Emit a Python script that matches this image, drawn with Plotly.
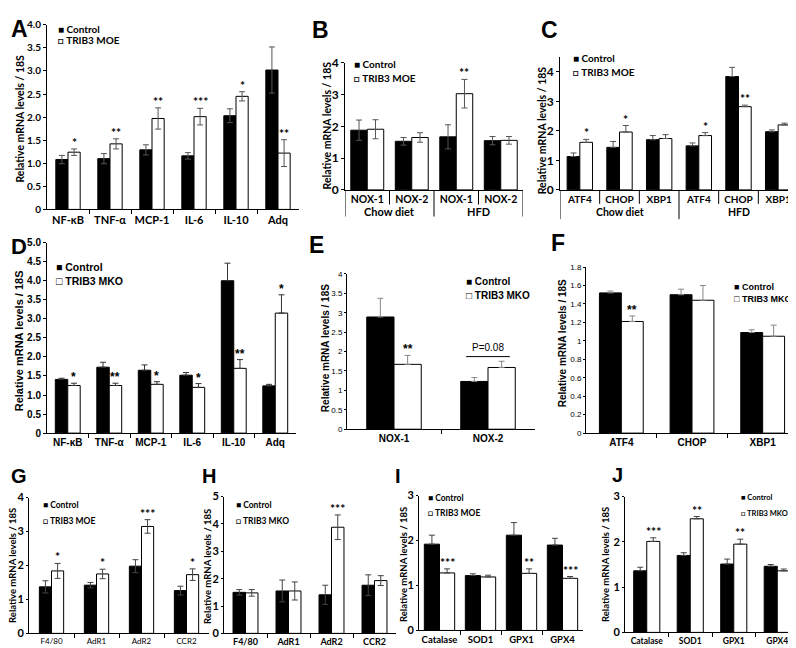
import numpy as np
import plotly.graph_objects as go

W, H = 796, 648
CAL = "Lato, 'Open Sans', sans-serif"
ARI = "'Liberation Sans', Arial, sans-serif"
YTITLE = "Relative mRNA levels / 18S"

# ---- data ----
a_genes = ["NF-κB", "TNF-α", "MCP-1", "IL-6", "IL-10", "Adq"]
a_ctrl = [1.08, 1.10, 1.29, 1.16, 2.03, 3.02]
a_ctrl_err = [0.09, 0.11, 0.11, 0.07, 0.15, 0.50]
a_moe = [1.24, 1.42, 1.97, 2.01, 2.45, 1.22]
a_moe_err = [0.07, 0.11, 0.23, 0.18, 0.10, 0.29]
a_sig = ["*", "**", "**", "***", "*", "**"]

b_genes = ["NOX-1", "NOX-2", "NOX-1", "NOX-2"]
b_diet = ["Chow diet", "HFD"]
b_ctrl = [1.88, 1.53, 1.67, 1.55]
b_ctrl_err = [0.32, 0.12, 0.38, 0.13]
b_moe = [1.91, 1.65, 3.03, 1.56]
b_moe_err = [0.30, 0.15, 0.45, 0.12]
b_sig = ["", "", "**", ""]

c_genes = ["ATF4", "CHOP", "XBP1", "ATF4", "CHOP", "XBP1"]
c_diet = ["Chow diet", "HFD"]
c_ctrl = [1.13, 1.44, 1.70, 1.49, 3.84, 1.97]
c_ctrl_err = [0.12, 0.20, 0.14, 0.10, 0.31, 0.06]
c_moe = [1.61, 1.96, 1.74, 1.84, 2.82, 2.20]
c_moe_err = [0.10, 0.22, 0.13, 0.10, 0.05, 0.06]
c_sig = ["*", "*", "", "*", "**", ""]

d_genes = ["NF-κB", "TNF-α", "MCP-1", "IL-6", "IL-10", "Adq"]
d_ctrl = [1.41, 1.73, 1.65, 1.52, 4.00, 1.24]
d_ctrl_err = [0.03, 0.13, 0.14, 0.07, 0.46, 0.04]
d_mko = [1.25, 1.25, 1.28, 1.20, 1.70, 3.15]
d_mko_err = [0.06, 0.06, 0.07, 0.10, 0.23, 0.48]
d_sig = ["*", "**", "*", "*", "**", "*"]

e_genes = ["NOX-1", "NOX-2"]
e_ctrl = [2.89, 1.23]
e_ctrl_err = [0.48, 0.10]
e_mko = [1.67, 1.59]
e_mko_err = [0.23, 0.16]
e_sig = ["**", ""]
e_pval = "P=0.08"

f_genes = ["ATF4", "CHOP", "XBP1"]
f_ctrl = [1.52, 1.50, 1.09]
f_ctrl_err = [0.02, 0.06, 0.03]
f_mko = [1.21, 1.44, 1.05]
f_mko_err = [0.06, 0.16, 0.12]
f_sig = ["**", "", ""]

g_genes = ["F4/80", "AdR1", "AdR2", "CCR2"]
g_ctrl = [1.37, 1.42, 1.98, 1.26]
g_ctrl_err = [0.18, 0.08, 0.19, 0.13]
g_moe = [1.84, 1.75, 3.15, 1.73]
g_moe_err = [0.22, 0.14, 0.20, 0.17]
g_sig = ["*", "*", "***", "*"]

h_genes = ["F4/80", "AdR1", "AdR2", "CCR2"]
h_ctrl = [1.50, 1.55, 1.41, 1.76]
h_ctrl_err = [0.10, 0.40, 0.35, 0.38]
h_mko = [1.48, 1.55, 3.88, 1.93]
h_mko_err = [0.12, 0.33, 0.45, 0.18]
h_sig = ["", "", "***", ""]

i_genes = ["Catalase", "SOD1", "GPX1", "GPX4"]
i_ctrl = [1.92, 1.22, 2.12, 1.90]
i_ctrl_err = [0.20, 0.04, 0.28, 0.15]
i_moe = [1.28, 1.19, 1.27, 1.16]
i_moe_err = [0.09, 0.04, 0.10, 0.04]
i_sig = ["***", "", "**", "***"]

j_genes = ["Catalase", "SOD1", "GPX1", "GPX4"]
j_ctrl = [1.36, 1.70, 1.51, 1.46]
j_ctrl_err = [0.08, 0.06, 0.11, 0.04]
j_mko = [2.01, 2.51, 1.95, 1.36]
j_mko_err = [0.08, 0.05, 0.11, 0.04]
j_sig = ["***", "**", "**", ""]

fig = go.Figure()
layout = {}
annotations = []
shapes = []


def fmt_dec(v):
    return "0" if v == 0 else f"{v:.1f}"


def fmt_g(v):
    return f"{v:g}"


def text(x, y, s, fam, size, bold=True, xanchor="center", **kw):
    d = dict(x=x / W, y=1 - y / H, xref="paper", yref="paper", text=s, showarrow=False,
             xanchor=xanchor, yanchor="middle",
             font=dict(family=fam, size=size, color="black", weight="bold" if bold else "normal"))
    d.update(kw)
    annotations.append(d)


def panel(n, cats, ctrl, ctrl_err, trt, trt_err, sig, trt_name, sp, groups=None):
    sfx = "" if n == 1 else str(n)
    xa, ya = "x" + sfx, "y" + sfx
    xs = list(range(len(cats)))
    w = sp["bw"]
    ekw = dict(type="data", thickness=1, width=3, color=sp.get("ecolor", "#444"))

    def err(arr):
        if sp["sym"]:
            return dict(array=arr, symmetric=True, **ekw)
        return dict(array=arr, arrayminus=[0] * len(arr), symmetric=False, **ekw)

    for name, vals, errs, fill, off in [("Control", ctrl, ctrl_err, "black", -w),
                                         (trt_name, trt, trt_err, "white", 0)]:
        fig.add_trace(go.Bar(x=xs, y=vals, width=w, offset=off, name=name, xaxis=xa, yaxis=ya,
                             showlegend=False, error_y=err(errs),
                             marker=dict(color=fill, line=dict(color="black", width=1))))

    fam = sp["fam"]
    yt = [round(v, 2) for v in np.arange(0, sp["ymax"] + 1e-9, sp["dtick"])]
    x0, x1 = sp["xpx"]
    top, bot = sp["ypx"]
    xaxis = dict(domain=[x0 / W, x1 / W], anchor=ya, range=[-0.5, len(cats) - 0.5],
                 tickvals=xs, ticktext=cats, ticks="", ticklen=0, showline=True,
                 linecolor="black", linewidth=1, showgrid=False, zeroline=False, fixedrange=True,
                 tickfont=dict(family=fam, size=sp["cat_size"], color="black",
                               weight=sp.get("cat_weight", "bold")))
    if groups is None:
        xaxis["minor"] = dict(tickmode="array", tickvals=[i + 0.5 for i in xs[:-1]],
                              ticks="outside", ticklen=4, tickcolor="black", tickwidth=1)
    layout["xaxis" + sfx] = xaxis
    layout["yaxis" + sfx] = dict(domain=[1 - bot / H, 1 - top / H], anchor=xa,
                                 range=[0, sp["ymax"]], tickvals=yt,
                                 ticktext=[sp["fmt"](v) for v in yt], ticks="outside",
                                 ticklen=sp.get("ticklen", 3), tickcolor="black", showline=True,
                                 linecolor="black", linewidth=1, showgrid=False, zeroline=False,
                                 fixedrange=True,
                                 tickfont=dict(family=fam, size=sp["tick_size"], color="black",
                                               weight=sp.get("tick_weight", "bold")))

    # significance marks above the treated bar
    for i, s in enumerate(sig):
        if s:
            annotations.append(dict(x=i + w / 2, y=trt[i] + trt_err[i], xref=xa, yref=ya, text=s,
                                    showarrow=False, yanchor="bottom", yshift=-3,
                                    font=dict(family=fam, size=12, color="black", weight="bold")))

    # two-level category axis (diet groups)
    if groups is not None:
        per = len(cats) // len(groups)
        inner, outer_len, lab = sp["div"]
        for i in range(len(cats) + 1):
            outer = i % per == 0
            shapes.append(dict(type="line", xref=xa, yref=ya + " domain", x0=i - 0.5, x1=i - 0.5,
                               y0=0, y1=-outer_len if outer else -inner,
                               line=dict(color="black", width=1)))
        for k, g in enumerate(groups):
            annotations.append(dict(x=k * per + (per - 1) / 2, y=-lab, xref=xa,
                                    yref=ya + " domain", text=g, showarrow=False,
                                    xanchor="center", yanchor="middle",
                                    font=dict(family=fam, size=sp["cat_size"] + 0.5, color="black",
                                              weight="bold")))

    # y title, legend and panel letter
    tx, ty = sp["title"]
    text(tx, ty, YTITLE, fam, sp["title_size"], textangle=-90)
    lx, ly = sp["leg"]
    text(lx, ly, "■ Control", fam, sp["leg_size"], xanchor="left")
    text(lx, ly + sp["leg_gap"], "□ " + trt_name, fam, sp["leg_size"], xanchor="left")
    px_, py_ = sp["letter"]
    text(px_, py_, sp["name"], ARI, sp.get("letter_size", 23), xanchor="left")


base_cal = dict(fam=CAL, fmt=fmt_g, tick_size=12, cat_size=10.5, leg_size=10, title_size=11,
                leg_gap=14, sym=True)

panel(1, a_genes, a_ctrl, a_ctrl_err, a_moe, a_moe_err, a_sig, "TRIB3 MOE",
      dict(base_cal, name="A", xpx=(39, 291), ypx=(9, 198), ymax=4.0, dtick=0.5, fmt=fmt_dec,
           tick_size=10, cat_size=11, bw=0.29, title=(12, 105), title_size=10.5, leg=(48, 13),
           leg_gap=12, letter=(1, 13), ecolor="#555"))
panel(2, b_genes, b_ctrl, b_ctrl_err, b_moe, b_moe_err, b_sig, "TRIB3 MOE",
      dict(base_cal, name="B", xpx=(337, 515), ypx=(48, 178), ymax=4, dtick=1, bw=0.37,
           title=(319, 112), title_size=10.5, leg=(344, 49), letter=(302, 14),
           div=(0.115, 0.21, 0.17), ecolor="#555"), groups=b_diet)
panel(3, c_genes, c_ctrl, c_ctrl_err, c_moe, c_moe_err, c_sig, "TRIB3 MOE",
      dict(base_cal, name="C", xpx=(552, 790), ypx=(42, 178), ymax=4.5, dtick=1, bw=0.32,
           sym=False, title=(534, 117), title_size=10.5, cat_size=10, leg=(563, 43),
           letter=(531, 14), div=(0.105, 0.22, 0.165), ecolor="#555"), groups=c_diet)
panel(4, d_genes, d_ctrl, d_ctrl_err, d_mko, d_mko_err, d_sig, "TRIB3 MKO",
      dict(name="D", fam=ARI, fmt=fmt_dec, tick_size=10, cat_size=10, leg_size=10.5,
           title_size=11, leg_gap=14, sym=False, xpx=(39, 288), ypx=(232, 427), ymax=5.0,
           dtick=0.5, bw=0.30, title=(11, 333), leg=(46, 257), letter=(1, 236),
           letter_size=22, ecolor="#333"))
panel(5, e_genes, e_ctrl, e_ctrl_err, e_mko, e_mko_err, e_sig, "TRIB3 MKO",
      dict(name="E", fam=ARI, fmt=fmt_g, tick_size=8, tick_weight="normal", cat_size=10,
           leg_size=10, title_size=10, leg_gap=14, sym=False, xpx=(339, 527), ypx=(264, 423),
           ymax=4, dtick=0.5, bw=0.29, ticklen=2, title=(317, 340), leg=(456, 272),
           letter=(299, 234), ecolor="#888"))
panel(6, f_genes, f_ctrl, f_ctrl_err, f_mko, f_mko_err, f_sig, "TRIB3 MKO",
      dict(name="F", fam=ARI, fmt=fmt_g, tick_size=8, tick_weight="normal", cat_size=10,
           leg_size=9, title_size=10, leg_gap=13, sym=False, xpx=(578, 790), ypx=(257, 427),
           ymax=1.8, dtick=0.2, bw=0.31, ticklen=2, title=(554, 335), leg=(724, 277),
           letter=(541, 232), ecolor="#888"))
panel(7, g_genes, g_ctrl, g_ctrl_err, g_moe, g_moe_err, g_sig, "TRIB3 MOE",
      dict(base_cal, name="G", xpx=(21, 201), ypx=(493, 632), ymax=4, dtick=1, bw=0.27,
           tick_size=11, ticklen=2, cat_size=8, cat_weight="normal", leg_size=8.5, leg_gap=16,
           title_size=9.5, title=(5, 563), leg=(33, 501), letter=(1, 471), letter_size=20))
panel(8, h_genes, h_ctrl, h_ctrl_err, h_mko, h_mko_err, h_sig, "TRIB3 MKO",
      dict(base_cal, name="H", xpx=(216, 388), ypx=(492, 632), ymax=5, dtick=1, bw=0.29,
           tick_size=11, ticklen=2, cat_size=9, leg_size=8.5, leg_gap=16, title_size=9.5,
           title=(200, 563), leg=(226, 501), letter=(192, 471), letter_size=20))
panel(9, i_genes, i_ctrl, i_ctrl_err, i_moe, i_moe_err, i_sig, "TRIB3 MOE",
      dict(base_cal, name="I", xpx=(411, 575), ypx=(491, 629), ymax=3, dtick=1, bw=0.37,
           sym=False, tick_size=11, ticklen=2, cat_size=9.5, leg_size=8.5, leg_gap=16,
           title_size=9.5, title=(396, 562), leg=(418, 493), letter=(385, 471),
           letter_size=20))
panel(10, j_genes, j_ctrl, j_ctrl_err, j_mko, j_mko_err, j_sig, "TRIB3 MKO",
      dict(base_cal, name="J", xpx=(617, 791), ypx=(492, 631), ymax=3, dtick=1, bw=0.30,
           sym=False, tick_size=11, ticklen=2, cat_size=8.5, leg_size=7.5, leg_gap=16,
           title_size=9.5, title=(598, 562), leg=(731, 493), letter=(602, 470),
           letter_size=20))

# P-value bracket over NOX-2 in panel E
top_e = max(e_ctrl[1] + e_ctrl_err[1], e_mko[1] + e_mko_err[1]) + 0.12
shapes.append(dict(type="line", xref="x5", yref="y5", x0=1 - 0.8 * 0.29, x1=1 + 0.8 * 0.29,
                   y0=top_e, y1=top_e, line=dict(color="black", width=1)))
annotations.append(dict(x=1, y=top_e, xref="x5", yref="y5", text=e_pval, showarrow=False,
                        yanchor="bottom", yshift=2,
                        font=dict(family=ARI, size=10, color="black")))

fig.update_layout(
    **layout,
    width=W, height=H,
    margin=dict(l=0, r=0, t=0, b=0),
    plot_bgcolor="white", paper_bgcolor="white",
    barmode="overlay", showlegend=False,
    annotations=annotations, shapes=shapes,
)
fig.write_html("out.html")
